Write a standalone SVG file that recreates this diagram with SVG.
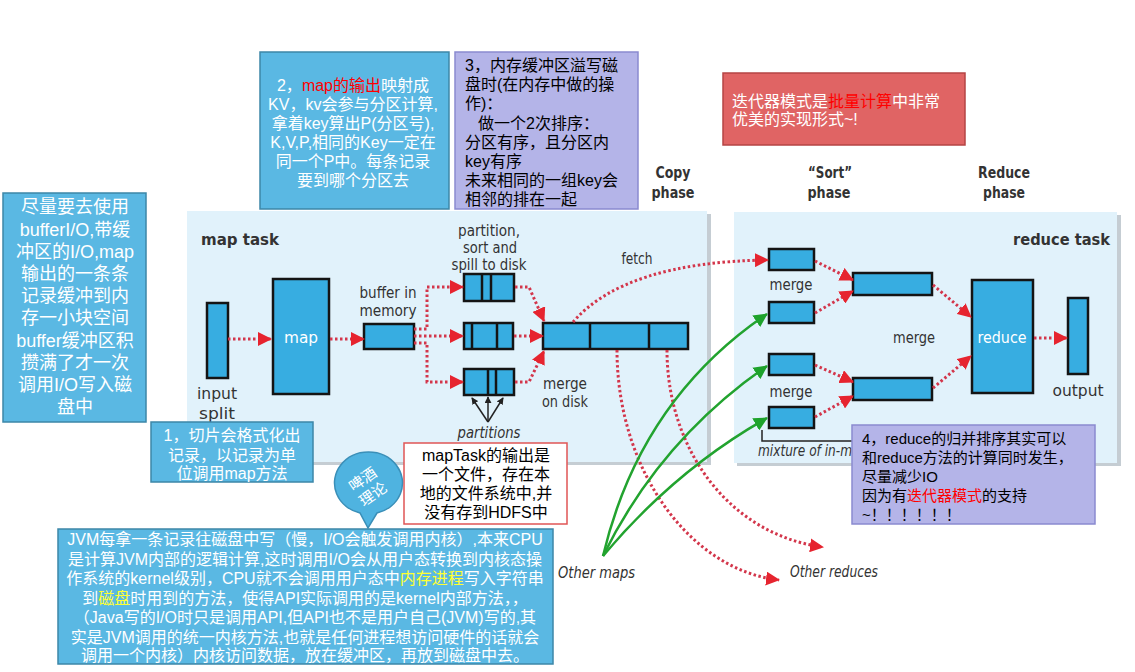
<svg xmlns="http://www.w3.org/2000/svg" width="1135" height="672" viewBox="0 0 1135 672">
<style>
.lbl{font-family:"DejaVu Sans Condensed","DejaVu Sans",sans-serif;font-stretch:condensed;fill:#333333;font-size:16px}
.b{font-weight:bold}
.it{font-style:italic}
.wt{fill:#ffffff}
.cn{font-family:"Liberation Sans","Noto Sans CJK SC",sans-serif;font-size:16px}
.box{fill:#37ade1;stroke:#141414;stroke-width:2.5}
.div{stroke:#141414;stroke-width:2.5}
.dot{fill:none;stroke:#d3364b;stroke-width:3;stroke-dasharray:2.5 2.5}
.grn{fill:none;stroke:#22a32f;stroke-width:2.5}
.blk{fill:none;stroke:#222;stroke-width:1.5}
.panel{fill:#e1f2fb}
.shadow{fill:#c5cdd3}
.nb{fill:#5ab8e3;stroke:#3d87a8;stroke-width:1.5}
.nl{fill:#b4b4e8;stroke:#8a8ad0;stroke-width:1.5}
</style>
<defs>
<marker id="ar" markerUnits="userSpaceOnUse" markerWidth="14" markerHeight="14" viewBox="0 0 14 14" refX="13" refY="7" orient="auto"><path d="M0,0 L14,7 L0,14 z" fill="#e6242f"/></marker>
<marker id="ag" markerUnits="userSpaceOnUse" markerWidth="14" markerHeight="14" viewBox="0 0 14 14" refX="13" refY="7" orient="auto"><path d="M0,0 L14,7 L0,14 z" fill="#1ea32b"/></marker>
<marker id="ak" markerUnits="userSpaceOnUse" markerWidth="7" markerHeight="7" viewBox="0 0 8 8" refX="7" refY="4" orient="auto"><path d="M0,0 L8,4 L0,8 z" fill="#222"/></marker>
</defs>
<rect width="1135" height="672" fill="#ffffff"/>

<g id="map-panel">
<rect class="shadow" x="190" y="214" width="521" height="251"/>
<rect class="panel" x="187" y="211" width="520" height="251"/>
<text class="lbl b" x="201" y="245" font-size="20" textLength="78" lengthAdjust="spacingAndGlyphs">map task</text>
</g>
<g id="reduce-panel">
<rect class="shadow" x="737" y="215" width="384" height="251"/>
<rect class="panel" x="734" y="212" width="383" height="251"/>
<text class="lbl b" x="1110" y="245" font-size="20" text-anchor="end" textLength="97" lengthAdjust="spacingAndGlyphs">reduce task</text>
</g>

<g id="phase-labels">
<text class="lbl b" x="673" y="178" font-size="18" text-anchor="middle" textLength="35" lengthAdjust="spacingAndGlyphs">Copy</text>
<text class="lbl b" x="673" y="198" font-size="18" text-anchor="middle" textLength="43" lengthAdjust="spacingAndGlyphs">phase</text>
<text class="lbl b" x="830" y="178" font-size="18" text-anchor="middle" textLength="44" lengthAdjust="spacingAndGlyphs">“Sort”</text>
<text class="lbl b" x="829" y="198" font-size="18" text-anchor="middle" textLength="43" lengthAdjust="spacingAndGlyphs">phase</text>
<text class="lbl b" x="1004" y="178" font-size="18" text-anchor="middle" textLength="52" lengthAdjust="spacingAndGlyphs">Reduce</text>
<text class="lbl b" x="1004" y="198" font-size="18" text-anchor="middle" textLength="42" lengthAdjust="spacingAndGlyphs">phase</text>
</g>

<g id="input-split">
<rect class="box" x="207" y="303" width="21" height="75"/>
<text class="lbl" x="217" y="399" font-size="19" text-anchor="middle" textLength="40" lengthAdjust="spacingAndGlyphs">input</text>
<text class="lbl" x="217" y="419" font-size="19" text-anchor="middle" textLength="36" lengthAdjust="spacingAndGlyphs">split</text>
</g>
<g id="map">
<rect class="box" x="273" y="279" width="56" height="115"/>
<text class="lbl wt" x="301" y="343" font-size="19" text-anchor="middle" textLength="34" lengthAdjust="spacingAndGlyphs">map</text>
</g>
<g id="buffer">
<rect class="box" x="364" y="324" width="50" height="25"/>
<text class="lbl" x="388" y="298" font-size="15" text-anchor="middle" textLength="57" lengthAdjust="spacingAndGlyphs">buffer in</text>
<text class="lbl" x="388" y="316" font-size="15" text-anchor="middle" textLength="57" lengthAdjust="spacingAndGlyphs">memory</text>
</g>
<g id="spill">
<text class="lbl" x="489" y="236" font-size="14.5" text-anchor="middle" textLength="62" lengthAdjust="spacingAndGlyphs">partition,</text>
<text class="lbl" x="490" y="253" font-size="14.5" text-anchor="middle" textLength="54" lengthAdjust="spacingAndGlyphs">sort and</text>
<text class="lbl" x="489" y="270" font-size="14.5" text-anchor="middle" textLength="75" lengthAdjust="spacingAndGlyphs">spill to disk</text>
<rect class="box" x="464" y="274" width="50" height="27"/>
<line class="div" x1="482" y1="274" x2="482" y2="301"/><line class="div" x1="491" y1="274" x2="491" y2="301"/>
<rect class="box" x="464" y="323" width="49" height="26"/>
<line class="div" x1="472" y1="323" x2="472" y2="349"/><line class="div" x1="497" y1="323" x2="497" y2="349"/>
<rect class="box" x="464" y="369" width="50" height="26"/>
<line class="div" x1="488" y1="369" x2="488" y2="395"/><line class="div" x1="496" y1="369" x2="496" y2="395"/>
<text class="lbl it" x="489" y="438" font-size="16" text-anchor="middle" textLength="63" lengthAdjust="spacingAndGlyphs">partitions</text>
</g>
<g id="merge-disk">
<rect class="box" x="543" y="323" width="145" height="26"/>
<line class="div" x1="590" y1="323" x2="590" y2="349"/><line class="div" x1="649" y1="323" x2="649" y2="349"/>
<text class="lbl" x="565" y="389" font-size="15" text-anchor="middle" textLength="44" lengthAdjust="spacingAndGlyphs">merge</text>
<text class="lbl" x="565" y="407" font-size="15" text-anchor="middle" textLength="46" lengthAdjust="spacingAndGlyphs">on disk</text>
<text class="lbl" x="637" y="264" font-size="16" text-anchor="middle" textLength="31" lengthAdjust="spacingAndGlyphs">fetch</text>
</g>
<g id="reduce-merges">
<rect class="box" x="769" y="249" width="45" height="21"/>
<rect class="box" x="769" y="302" width="45" height="21"/>
<rect class="box" x="769" y="354" width="45" height="21"/>
<rect class="box" x="769" y="407" width="45" height="21"/>
<text class="lbl" x="791" y="290" font-size="16" text-anchor="middle" textLength="43" lengthAdjust="spacingAndGlyphs">merge</text>
<text class="lbl" x="791" y="397" font-size="16" text-anchor="middle" textLength="43" lengthAdjust="spacingAndGlyphs">merge</text>
<rect class="box" x="853" y="273" width="79" height="22"/>
<rect class="box" x="853" y="378" width="79" height="22"/>
<text class="lbl" x="914" y="343" font-size="16" text-anchor="middle" textLength="42" lengthAdjust="spacingAndGlyphs">merge</text>
<path class="blk" d="M762,430 V441 H852" stroke="#666" stroke-width="1"/>
<text class="lbl it" x="758" y="456" font-size="16" textLength="94" lengthAdjust="spacingAndGlyphs">mixture of in-m</text>
</g>
<g id="reduce">
<rect class="box" x="972" y="280" width="61" height="113"/>
<text class="lbl wt" x="1002" y="343" font-size="19" text-anchor="middle" textLength="49" lengthAdjust="spacingAndGlyphs">reduce</text>
</g>
<g id="output">
<rect class="box" x="1068" y="298" width="20" height="76"/>
<text class="lbl" x="1078" y="396" font-size="19" text-anchor="middle" textLength="51" lengthAdjust="spacingAndGlyphs">output</text>
</g>
<g id="other-labels">
<text class="lbl it" x="558" y="578" font-size="17" textLength="77" lengthAdjust="spacingAndGlyphs">Other maps</text>
<text class="lbl it" x="790" y="577" font-size="17" textLength="88" lengthAdjust="spacingAndGlyphs">Other reduces</text>
</g>

<g id="connectors">
<path class="dot" d="M228,339 H271" marker-end="url(#ar)"/>
<path class="dot" d="M330,339 H364" marker-end="url(#ar)"/>
<path class="dot" d="M414,329 H427 V287 H463" marker-end="url(#ar)"/>
<path class="dot" d="M414,336 H463" marker-end="url(#ar)"/>
<path class="dot" d="M414,343 H427 V382 H463" marker-end="url(#ar)"/>
<path class="dot" d="M515,287 H529 L544,321" marker-end="url(#ar)"/>
<path class="dot" d="M514,336 H543" marker-end="url(#ar)"/>
<path class="dot" d="M515,382 H529 L544,351" marker-end="url(#ar)"/>
<path class="dot" d="M573,322 Q625,262 768,260" marker-end="url(#ar)"/>
<path class="dot" d="M617,350 C617,470 690,570 779,580" marker-end="url(#ar)"/>
<path class="dot" d="M667,350 C667,450 730,535 823,547" marker-end="url(#ar)"/>
<path class="dot" d="M815,261 L853,280" marker-end="url(#ar)"/>
<path class="dot" d="M815,313 L853,291" marker-end="url(#ar)"/>
<path class="dot" d="M815,365 L853,382" marker-end="url(#ar)"/>
<path class="dot" d="M815,417 L853,396" marker-end="url(#ar)"/>
<path class="dot" d="M933,285 L971,317" marker-end="url(#ar)"/>
<path class="dot" d="M933,388 L971,356" marker-end="url(#ar)"/>
<path class="dot" d="M1034,338 H1067" marker-end="url(#ar)"/>
<path class="grn" d="M603,556 Q640,400 767,314" marker-end="url(#ag)"/>
<path class="grn" d="M603,556 Q660,440 767,366" marker-end="url(#ag)"/>
<path class="grn" d="M603,556 Q675,470 767,418" marker-end="url(#ag)"/>
<path class="blk" d="M488,422 L472,398" marker-end="url(#ak)"/>
<path class="blk" d="M488,422 V397" marker-end="url(#ak)"/>
<path class="blk" d="M488,422 L503,398" marker-end="url(#ak)"/>
</g>

<g id="note-2">
<rect class="nb" x="260" y="52" width="189" height="157"/>
<g class="cn wt" text-anchor="middle">
<text x="353" y="91">2，<tspan fill="#ff0000">map的输出</tspan>映射成</text>
<text x="353" y="110">KV，kv会参与分区计算,</text>
<text x="353" y="129">拿着key算出P(分区号),</text>
<text x="353" y="148">K,V,P,相同的Key一定在</text>
<text x="353" y="167">同一个P中。每条记录</text>
<text x="353" y="186">要到哪个分区去</text>
</g>
</g>
<g id="note-3">
<rect class="nl" x="455" y="52" width="183" height="157"/>
<g class="cn">
<text x="465" y="71">3，内存缓冲区溢写磁</text>
<text x="465" y="90">盘时(在内存中做的操</text>
<text x="465" y="109">作)：</text>
<text x="478" y="129">做一个2次排序：</text>
<text x="465" y="148">分区有序，且分区内</text>
<text x="465" y="167">key有序</text>
<text x="465" y="186">未来相同的一组key会</text>
<text x="465" y="205">相邻的排在一起</text>
</g>
</g>
<g id="note-left">
<rect class="nb" x="3" y="193" width="143" height="229"/>
<g class="cn wt" font-size="18" text-anchor="middle">
<text x="75" y="213" font-size="18">尽量要去使用</text>
<text x="75" y="236" font-size="18">bufferI/O,带缓</text>
<text x="75" y="258" font-size="18">冲区的I/O,map</text>
<text x="75" y="280" font-size="18">输出的一条条</text>
<text x="75" y="302" font-size="18">记录缓冲到内</text>
<text x="75" y="324" font-size="18">存一小块空间</text>
<text x="75" y="347" font-size="18">buffer缓冲区积</text>
<text x="75" y="369" font-size="18">攒满了才一次</text>
<text x="75" y="391" font-size="18">调用I/O写入磁</text>
<text x="75" y="413" font-size="18">盘中</text>
</g>
</g>
<g id="note-1">
<rect class="nb" x="151" y="422" width="162" height="60"/>
<g class="cn wt" text-anchor="middle">
<text x="232" y="441">1，切片会格式化出</text>
<text x="232" y="461">记录，以记录为单</text>
<text x="232" y="479">位调用map方法</text>
</g>
</g>
<g id="note-maptask">
<rect x="404" y="443" width="163" height="81" fill="#ffffff" stroke="#e05555" stroke-width="1.5"/>
<g class="cn" text-anchor="middle">
<text x="486" y="461">mapTask的输出是</text>
<text x="486" y="480">一个文件，存在本</text>
<text x="486" y="499">地的文件系统中,并</text>
<text x="486" y="518">没有存到HDFS中</text>
</g>
</g>
<g id="bubble">
<path d="M360,513 A34,31 0 1 1 377,513 L368,528 Z" fill="#4fb3e0" stroke="#3a8fb8" stroke-width="1.5"/>
<g transform="rotate(-35 368 487)" class="cn wt" font-size="15" text-anchor="middle">
<text x="368" y="483" font-size="15">啤酒</text>
<text x="368" y="501" font-size="15">理论</text>
</g>
</g>
<g id="note-jvm">
<rect class="nb" x="58" y="529" width="495" height="135"/>
<g class="cn wt" font-size="16" text-anchor="middle">
<text x="305" y="545" font-size="16">JVM每拿一条记录往磁盘中写（慢，I/O会触发调用内核）,本来CPU</text>
<text x="305" y="564.5" font-size="16">是计算JVM内部的逻辑计算,这时调用I/O会从用户态转换到内核态操</text>
<text x="305" y="584" font-size="16">作系统的kernel级别，CPU就不会调用用户态中<tspan fill="#ffff33">内存进程</tspan>写入字符串</text>
<text x="305" y="603.5" font-size="16">到<tspan fill="#ffff33">磁盘</tspan>时用到的方法，使得API实际调用的是kernel内部方法，，</text>
<text x="305" y="623" font-size="16">（Java写的I/O时只是调用API,但API也不是用户自己(JVM)写的,其</text>
<text x="305" y="642.5" font-size="16">实是JVM调用的统一内核方法,也就是任何进程想访问硬件的话就会</text>
<text x="305" y="661" font-size="16">调用一个内核）内核访问数据，放在缓冲区，再放到磁盘中去。</text>
</g>
</g>
<g id="note-iterator">
<rect x="723" y="73" width="242" height="72" fill="#e06464" stroke="#b54444" stroke-width="1.5"/>
<g class="cn wt">
<text x="732" y="107">迭代器模式是<tspan fill="#ff0000">批量计算</tspan>中非常</text>
<text x="732" y="125">优美的实现形式~!</text>
</g>
</g>
<g id="note-4">
<rect class="nl" x="852" y="425" width="243" height="99"/>
<g class="cn" font-size="15">
<text x="862" y="444" font-size="15">4，reduce的归并排序其实可以</text>
<text x="862" y="463" font-size="15">和reduce方法的计算同时发生，</text>
<text x="862" y="482" font-size="15">尽量减少IO</text>
<text x="862" y="501" font-size="15">因为有<tspan fill="#ff0000">迭代器模式</tspan>的支持</text>
<text x="862" y="520" font-size="15">~！！！！！！</text>
</g>
</g>
</svg>
